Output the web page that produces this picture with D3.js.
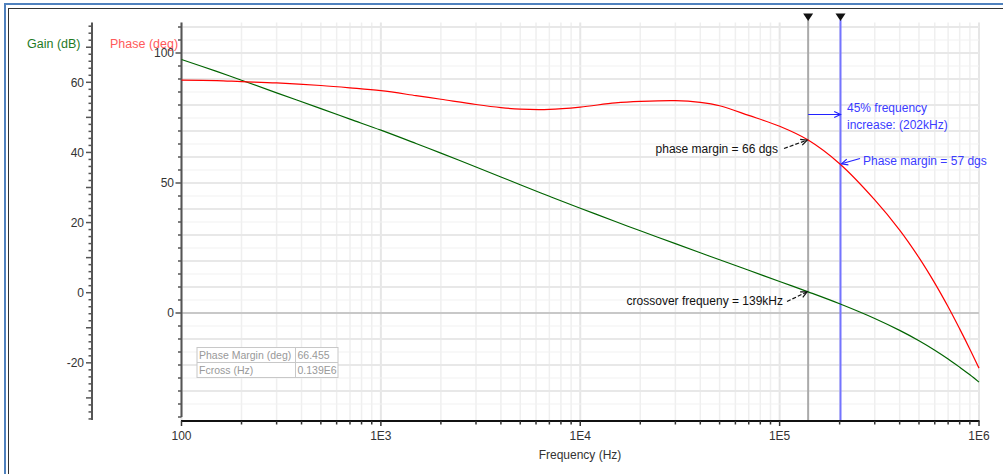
<!DOCTYPE html>
<html>
<head>
<meta charset="utf-8">
<script src="https://cdn.jsdelivr.net/npm/d3@7"></script>
<style>
  body { margin: 0; background: #fff; }
  text { font-family: Arial, "Liberation Sans", sans-serif; }
</style>
</head>
<body>
<script>
// Bode plot data
var freqs = [100, 150, 200, 300, 500, 700, 1e3, 1.5e3, 2e3, 3e3, 4e3, 5e3, 7e3, 1e4, 1.5e4, 2e4, 3e4, 4e4, 5e4, 7e4, 1e5, 1.39e5, 2e5, 3e5, 4e5, 5e5, 6e5, 7e5, 8e5, 9e5, 1e6];
var gainDb = [66.5, 63.1, 60.6, 57.0, 52.5, 49.5, 46.35, 42.55, 39.8, 35.85, 33.0, 30.8, 27.5, 24.1, 20.3, 17.65, 14.0, 11.4, 9.4, 6.4, 3.2, 0.25, -3.15, -7.35, -10.75, -13.7, -16.4, -18.9, -21.25, -23.4, -25.5];
var phaseDeg = [89.6, 89.4, 89.0, 88.5, 87.5, 86.6, 85.5, 83.6, 82.2, 80.2, 79.0, 78.4, 78.3, 79.2, 80.8, 81.4, 81.7, 81.0, 79.7, 76.0, 71.8, 66.5, 57.4, 43.5, 31.9, 21.3, 11.5, 2.4, -6.1, -13.9, -21.2];

var xTickValues = [100, 1e3, 1e4, 1e5, 1e6];
var xTickLabels = ["100", "1E3", "1E4", "1E5", "1E6"];
var gainLabels = [-20, 0, 20, 40, 60];
var phaseLabels = [0, 50, 100];

// markers: crossover and +45% frequency
var fCross = 139e3;
var fShift = 202e3;
var tableRows = [["Phase Margin (deg)", "66.455"], ["Fcross (Hz)", "0.139E6"]];

var W = 1003, H = 474;
var plotTop = 22.5, plotBottom = 421;

var svg = d3.select("body").append("svg")
    .attr("width", W)
    .attr("height", H);

// frame
svg.append("rect")
    .attr("x", 5).attr("y", 4).attr("width", 1010).attr("height", 490)
    .style("fill", "none").style("stroke", "#4f81bd").style("stroke-width", 2);
svg.append("rect")
    .attr("x", 8.5).attr("y", 8.5).attr("width", 1010).attr("height", 490)
    .style("fill", "none").style("stroke", "#333").style("stroke-width", 1);

// scales
var x = d3.scaleLog().domain([100, 1e6]).range([181.5, 979]);
var yPhase = d3.scaleLinear().domain([0, 100]).range([313, 53]);
var yGain = d3.scaleLinear().domain([0, 60]).range([292.7, 82.3]);

// grid
var grid = svg.append("g");
grid.selectAll("line.v")
    .data(x.ticks())
    .enter().append("line")
    .attr("x1", function(d) { return x(d); })
    .attr("x2", function(d) { return x(d); })
    .attr("y1", plotTop).attr("y2", plotBottom)
    .style("stroke", function(d) { return Math.log10(d) % 1 === 0 ? "#e6e6e6" : "#efefef"; })
    .style("stroke-width", function(d) { return Math.log10(d) % 1 === 0 ? 2 : 1.5; });

var phaseGrid = d3.range(-35, 115, 5).filter(function(d) { return yPhase(d) > plotTop && yPhase(d) < plotBottom - 2; });
grid.selectAll("line.h")
    .data(phaseGrid)
    .enter().append("line")
    .attr("x1", 181.5).attr("x2", 979)
    .attr("y1", function(d) { return yPhase(d); })
    .attr("y2", function(d) { return yPhase(d); })
    .style("stroke", function(d) { return d === 0 ? "#c8c8c8" : (d % 10 === 0 ? "#e8e8e8" : "#f2f2f2"); })
    .style("stroke-width", function(d) { return d === 0 ? 2 : (d % 10 === 0 ? 2 : 1.2); });

// gain axis (left)
var gainAxisX = 92;
var gainMinor = d3.range(-36, 78, 2).filter(function(d) { var y = yGain(d); return y >= 23 && y <= 420; });
svg.append("line")
    .attr("x1", gainAxisX).attr("x2", gainAxisX)
    .attr("y1", 22.5).attr("y2", 420)
    .style("stroke", "#555").style("stroke-width", 2);
svg.selectAll("line.gt")
    .data(gainMinor)
    .enter().append("line")
    .attr("x1", function(d) { return gainAxisX - (d % 10 === 0 ? 6 : 3.5); })
    .attr("x2", gainAxisX)
    .attr("y1", function(d) { return yGain(d); })
    .attr("y2", function(d) { return yGain(d); })
    .style("stroke", "#555").style("stroke-width", 1.5);
svg.selectAll("text.gl")
    .data(gainLabels)
    .enter().append("text")
    .attr("x", 84)
    .attr("y", function(d) { return yGain(d); })
    .attr("dy", "0.35em")
    .attr("text-anchor", "end")
    .attr("font-size", 12)
    .style("fill", "#333")
    .text(function(d) { return d; });

// phase axis (plot left edge)
var phaseAxisX = 181.5;
var phaseMinor = d3.range(-40, 112, 5).filter(function(d) { var y = yPhase(d); return y >= 23 && y <= 418; });
svg.append("line")
    .attr("x1", phaseAxisX).attr("x2", phaseAxisX)
    .attr("y1", 22.5).attr("y2", 417)
    .style("stroke", "#555").style("stroke-width", 2);
svg.selectAll("line.pt")
    .data(phaseMinor)
    .enter().append("line")
    .attr("x1", function(d) { return phaseAxisX - (d % 50 === 0 ? 6 : 3.5); })
    .attr("x2", phaseAxisX)
    .attr("y1", function(d) { return yPhase(d); })
    .attr("y2", function(d) { return yPhase(d); })
    .style("stroke", "#555").style("stroke-width", 1.5);

// axis titles
svg.append("text")
    .attr("x", 27).attr("y", 43.5).attr("dy", "0.35em")
    .attr("font-size", 12.5)
    .style("fill", "#1f7a1f")
    .text("Gain (dB)");
svg.append("text")
    .attr("x", 110).attr("y", 43.5).attr("dy", "0.35em")
    .attr("font-size", 12.5)
    .style("fill", "#ff5a5a")
    .text("Phase (deg)");

svg.selectAll("text.pl")
    .data(phaseLabels)
    .enter().append("text")
    .attr("x", 174)
    .attr("y", function(d) { return yPhase(d); })
    .attr("dy", "0.35em")
    .attr("text-anchor", "end")
    .attr("font-size", 12)
    .style("fill", "#333")
    .text(function(d) { return d; });

// x axis
svg.append("line")
    .attr("x1", 181).attr("x2", 979.5)
    .attr("y1", plotBottom).attr("y2", plotBottom)
    .style("stroke", "#111").style("stroke-width", 2);
svg.selectAll("line.xt")
    .data(x.ticks())
    .enter().append("line")
    .attr("x1", function(d) { return x(d); })
    .attr("x2", function(d) { return x(d); })
    .attr("y1", plotBottom)
    .attr("y2", function(d) { return plotBottom + (Math.log10(d) % 1 === 0 ? 5 : 3.5); })
    .style("stroke", "#333").style("stroke-width", 1.5);
svg.selectAll("text.xl")
    .data(xTickValues)
    .enter().append("text")
    .attr("x", function(d) { return x(d); })
    .attr("y", 436).attr("dy", "0.35em")
    .attr("text-anchor", "middle")
    .attr("font-size", 12)
    .style("fill", "#333")
    .text(function(d, i) { return xTickLabels[i]; });
svg.append("text")
    .attr("x", 580).attr("y", 454.5).attr("dy", "0.35em")
    .attr("text-anchor", "middle")
    .attr("font-size", 12)
    .style("fill", "#333")
    .text("Frequency (Hz)");

// data table
var table = svg.append("g");
table.append("rect")
    .attr("x", 197).attr("y", 347.5).attr("width", 141).attr("height", 30)
    .style("fill", "#fff").style("stroke", "#c8c8c8").style("stroke-width", 1);
table.append("line").attr("x1", 197).attr("x2", 338).attr("y1", 362.5).attr("y2", 362.5)
    .style("stroke", "#c8c8c8");
table.append("line").attr("x1", 295.5).attr("x2", 295.5).attr("y1", 347.5).attr("y2", 377.5)
    .style("stroke", "#c8c8c8");
tableRows.forEach(function(r, i) {
  table.append("text").attr("x", 199).attr("y", 355.5 + i * 15).attr("dy", "0.35em")
      .attr("font-size", 10.5).style("fill", "#999").text(r[0]);
  table.append("text").attr("x", 297.5).attr("y", 355.5 + i * 15).attr("dy", "0.35em")
      .attr("font-size", 10.5).style("fill", "#999").text(r[1]);
});

// marker lines
svg.append("line")
    .attr("x1", x(fCross)).attr("x2", x(fCross))
    .attr("y1", 20).attr("y2", plotBottom - 1)
    .style("stroke", "#aaaaaa").style("stroke-width", 2);
svg.append("line")
    .attr("x1", x(fShift)).attr("x2", x(fShift))
    .attr("y1", 20).attr("y2", plotBottom - 1)
    .style("stroke", "#7474ff").style("stroke-width", 2);
[fCross, fShift].forEach(function(f) {
  var cx = x(f);
  svg.append("path")
      .attr("d", "M" + (cx - 5) + ",13.5L" + (cx + 5) + ",13.5L" + cx + ",21Z")
      .style("fill", "#111");
});

// curves
var phaseLine = d3.line()
    .x(function(d) { return x(d[0]); })
    .y(function(d) { return yPhase(d[1]); })
    .curve(d3.curveCatmullRom.alpha(0.5));
var gainLine = d3.line()
    .x(function(d) { return x(d[0]); })
    .y(function(d) { return yGain(d[1]); })
    .curve(d3.curveCatmullRom.alpha(0.5));

svg.append("path")
    .datum(d3.zip(freqs, gainDb))
    .style("fill", "none")
    .style("stroke", "#006400")
    .style("stroke-width", 1.2)
    .attr("d", gainLine);
svg.append("path")
    .datum(d3.zip(freqs, phaseDeg))
    .style("fill", "none")
    .style("stroke", "#ff0000")
    .style("stroke-width", 1.2)
    .attr("d", phaseLine);

// annotations
function arrow(x1, y1, x2, y2, color, dash) {
  var a = Math.atan2(y2 - y1, x2 - x1), len = 7, spread = 0.45;
  svg.append("line")
      .attr("x1", x1).attr("y1", y1).attr("x2", x2).attr("y2", y2)
      .style("stroke", color).style("stroke-width", 1.2)
      .style("stroke-dasharray", dash || null);
  svg.append("path")
      .attr("d", "M" + (x2 - len * Math.cos(a - spread)) + "," + (y2 - len * Math.sin(a - spread)) +
                 "L" + x2 + "," + y2 +
                 "L" + (x2 - len * Math.cos(a + spread)) + "," + (y2 - len * Math.sin(a + spread)))
      .style("fill", "none").style("stroke", color).style("stroke-width", 1.2);
}

var xc = x(fCross), xs = x(fShift);
arrow(xc, 114.5, xs, 114.5, "#2222ff");
svg.append("text").attr("x", 847).attr("y", 108).attr("dy", "0.35em")
    .attr("font-size", 12).style("fill", "#3b3bff").text("45% frequency");
svg.append("text").attr("x", 847).attr("y", 125).attr("dy", "0.35em")
    .attr("font-size", 12).style("fill", "#3b3bff").text("increase: (202kHz)");

arrow(860, 158.5, xs + 1, yPhase(57.4), "#2222ff");
svg.append("text").attr("x", 863).attr("y", 160.5).attr("dy", "0.35em")
    .attr("font-size", 12).style("fill", "#3b3bff").text("Phase margin = 57 dgs");

arrow(784, 148.5, xc - 1, yPhase(66.5), "#111", "4,2");
svg.append("text").attr("x", 778).attr("y", 148.5).attr("dy", "0.35em")
    .attr("text-anchor", "end")
    .attr("font-size", 12).style("fill", "#111").text("phase margin = 66 dgs");

arrow(787, 301.5, xc - 1, yGain(0.25), "#111", "4,2");
svg.append("text").attr("x", 783).attr("y", 300.5).attr("dy", "0.35em")
    .attr("text-anchor", "end")
    .attr("font-size", 12).style("fill", "#111").text("crossover frequeny = 139kHz");
</script>
</body>
</html>
